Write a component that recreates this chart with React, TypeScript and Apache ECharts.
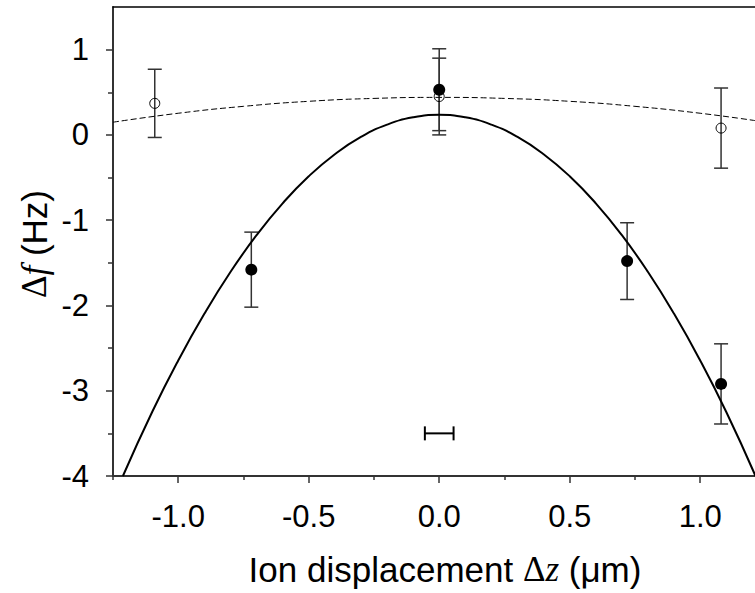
import React, { useEffect, useRef } from "react";
import * as echarts from "echarts";

// Measured points (filled circles) with vertical error bars
const filledX = [-0.72, 0, 0.72, 1.08];
const filledY = [-1.58, 0.53, -1.48, -2.92];
const filledErr = [0.44, 0.48, 0.45, 0.47];

// Measured points (open circles) with vertical error bars
const openX = [-1.09, 0, 1.08];
const openY = [0.37, 0.45, 0.08];
const openErr = [0.4, 0.45, 0.47];

// Solid fit curve
const solidX = [-1.212, -1.1, -1.0, -0.9, -0.8, -0.7, -0.6, -0.5, -0.4, -0.3, -0.2, -0.1, 0, 0.1, 0.2, 0.3, 0.4, 0.5, 0.6, 0.7, 0.8, 0.9, 1.0, 1.1, 1.212];
const solidY = [-4.0, -3.25, -2.645, -2.098, -1.608, -1.176, -0.802, -0.485, -0.226, -0.024, 0.12, 0.206, 0.235, 0.206, 0.12, -0.024, -0.226, -0.485, -0.802, -1.176, -1.608, -2.098, -2.645, -3.25, -4.0];

// Dashed fit curve
const dashX = [-1.25, -1.0, -0.75, -0.5, -0.25, 0, 0.25, 0.5, 0.75, 1.0, 1.21];
const dashY = [0.149, 0.254, 0.335, 0.394, 0.428, 0.44, 0.428, 0.394, 0.335, 0.254, 0.168];

// Horizontal resolution bar
const resX = [0];
const resY = [-3.5];
const resErr = [0.055];

// Ticks
const xMajor = [-1.0, -0.5, 0.0, 0.5, 1.0];
const xMinor = [-1.25, -0.75, -0.25, 0.25, 0.75];
const yMajor = [-4, -3, -2, -1, 0, 1];
const yMinor = [-3.5, -2.5, -1.5, -0.5, 0.5];

const FONT = '"Liberation Sans", Arial, sans-serif';

export default function App() {
  const ref = useRef<HTMLDivElement>(null);
  useEffect(() => {
    if (!ref.current) return;
    const chart = echarts.init(ref.current, null, { renderer: "svg" });

    const vErr = (params: any, api: any) => {
      const x = api.value(0), y = api.value(1), e = api.value(2);
      const t = api.coord([x, y + e]);
      const b = api.coord([x, y - e]);
      const w = 7;
      const st = { stroke: "#333", lineWidth: 1.5 };
      return {
        type: "group",
        children: [
          { type: "line", shape: { x1: t[0], y1: t[1], x2: b[0], y2: b[1] }, style: st },
          { type: "line", shape: { x1: t[0] - w, y1: t[1], x2: t[0] + w, y2: t[1] }, style: st },
          { type: "line", shape: { x1: b[0] - w, y1: b[1], x2: b[0] + w, y2: b[1] }, style: st },
        ],
      };
    };
    const hErr = (params: any, api: any) => {
      const x = api.value(0), y = api.value(1), e = api.value(2);
      const l = api.coord([x - e, y]);
      const r = api.coord([x + e, y]);
      const h = 7;
      const st = { stroke: "#000", lineWidth: 2 };
      return {
        type: "group",
        children: [
          { type: "line", shape: { x1: l[0], y1: l[1], x2: r[0], y2: r[1] }, style: st },
          { type: "line", shape: { x1: l[0], y1: l[1] - h, x2: l[0], y2: l[1] + h }, style: st },
          { type: "line", shape: { x1: r[0], y1: r[1] - h, x2: r[0], y2: r[1] + h }, style: st },
        ],
      };
    };

    const xRange = { min: -1.25, max: 1.21 };
    const yRange = { min: -4, max: 1.5 };

    chart.setOption({
      animation: false,
      grid: { left: 113, top: 7, right: 0, bottom: 117, containLabel: false },
      xAxis: [
        {
          type: "value", ...xRange, position: "bottom",
          axisLine: { show: true, onZero: false, lineStyle: { color: "#333", width: 2 } },
          axisTick: { show: true, length: 7, customValues: xMajor, lineStyle: { color: "#333", width: 1.5 } },
          axisLabel: {
            show: true, customValues: xMajor, margin: 25,
            fontFamily: FONT, fontSize: 31, color: "#000",
            formatter: (v: number) => v.toFixed(1),
          },
          splitLine: { show: false },
        },
        {
          type: "value", ...xRange, position: "bottom",
          axisLine: { show: false, onZero: false },
          axisTick: { show: true, length: 4, customValues: xMinor, lineStyle: { color: "#333", width: 1.5 } },
          axisLabel: { show: false },
          splitLine: { show: false },
        },
        {
          type: "value", ...xRange, position: "top",
          axisLine: { show: true, onZero: false, lineStyle: { color: "#000", width: 1.5 } },
          axisTick: { show: false },
          axisLabel: { show: false },
          splitLine: { show: false },
        },
      ],
      yAxis: [
        {
          type: "value", ...yRange, position: "left",
          axisLine: { show: true, onZero: false, lineStyle: { color: "#333", width: 2 } },
          axisTick: { show: true, length: 7, customValues: yMajor, lineStyle: { color: "#333", width: 1.5 } },
          axisLabel: {
            show: true, customValues: yMajor, margin: 24,
            fontFamily: FONT, fontSize: 31, color: "#000",
          },
          splitLine: { show: false },
        },
        {
          type: "value", ...yRange, position: "left",
          axisLine: { show: false, onZero: false },
          axisTick: { show: true, length: 5, customValues: yMinor, lineStyle: { color: "#333", width: 1.5 } },
          axisLabel: { show: false },
          splitLine: { show: false },
        },
      ],
      series: [
        {
          type: "line", xAxisIndex: 0, yAxisIndex: 0,
          data: dashX.map((x, i) => [x, dashY[i]]),
          smooth: true, showSymbol: false,
          lineStyle: { color: "#000", width: 1, type: [6, 3] },
        },
        {
          type: "line", xAxisIndex: 0, yAxisIndex: 0,
          data: solidX.map((x, i) => [x, solidY[i]]),
          smooth: true, showSymbol: false,
          lineStyle: { color: "#000", width: 2 },
        },
        {
          type: "custom", xAxisIndex: 0, yAxisIndex: 0,
          data: openX.map((x, i) => [x, openY[i], openErr[i]]),
          renderItem: vErr,
        },
        {
          type: "custom", xAxisIndex: 0, yAxisIndex: 0,
          data: filledX.map((x, i) => [x, filledY[i], filledErr[i]]),
          renderItem: vErr,
        },
        {
          type: "custom", xAxisIndex: 0, yAxisIndex: 0,
          data: resX.map((x, i) => [x, resY[i], resErr[i]]),
          renderItem: hErr,
        },
        {
          type: "scatter", xAxisIndex: 0, yAxisIndex: 0,
          data: openX.map((x, i) => [x, openY[i]]),
          symbol: "circle", symbolSize: 10,
          itemStyle: { color: "rgba(0,0,0,0)", borderColor: "#000", borderWidth: 1, opacity: 1 },
        },
        {
          type: "scatter", xAxisIndex: 0, yAxisIndex: 0,
          data: filledX.map((x, i) => [x, filledY[i]]),
          symbol: "circle", symbolSize: 12,
          itemStyle: { color: "#000", opacity: 1 },
        },
      ],
      graphic: [
        {
          type: "text", x: 445, y: 569,
          style: {
            text: "Ion displacement {s|Δ}{i|z} (μm)",
            font: `35px ${FONT}`, fill: "#000",
            align: "center", verticalAlign: "middle",
            rich: {
              s: { fontFamily: '"Liberation Serif", serif', fontSize: 35, fill: "#000" },
              i: { fontFamily: '"Liberation Serif", serif', fontStyle: "italic", fontSize: 35, fill: "#000" },
            },
          },
        },
        {
          type: "text", x: 34, y: 244, rotation: Math.PI / 2,
          style: {
            text: "{s|Δ}{i|f} (Hz)",
            font: `35px ${FONT}`, fill: "#000",
            align: "center", verticalAlign: "middle",
            rich: {
              s: { fontFamily: '"Liberation Serif", serif', fontSize: 35, fill: "#000" },
              i: { fontFamily: '"Liberation Serif", serif', fontStyle: "italic", fontSize: 35, fill: "#000" },
            },
          },
        },
      ],
    });
    return () => chart.dispose();
  }, []);
  return (
    <div
      ref={ref}
      style={{ position: "absolute", left: 0, top: 0, width: 755, height: 593, background: "#fff" }}
    />
  );
}
